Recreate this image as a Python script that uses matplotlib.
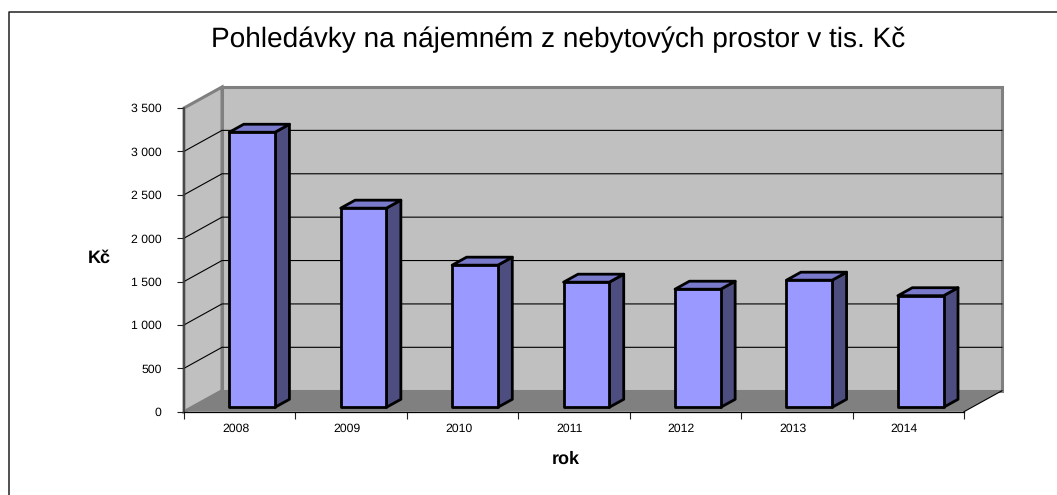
import matplotlib
matplotlib.use('Agg')
import matplotlib.pyplot as plt
from matplotlib.lines import Line2D
from matplotlib.patches import Polygon
from matplotlib.transforms import ScaledTranslation

years = ['2008', '2009', '2010', '2011', '2012', '2013', '2014']
values = [3170, 2295, 1638, 1442, 1361, 1465, 1286]
y_ticks = [0, 500, 1000, 1500, 2000, 2500, 3000, 3500]
y_tick_labels = ['0', '500', '1 000', '1 500', '2 000', '2 500', '3 000', '3 500']

W, H = 1057, 495
DEPTH_X = 38 / 111.43   # wall depth in category units
DEPTH_Y = 21 / 0.08677  # wall depth in value units
BAR_WIDTH = 0.41
BAR_D0, BAR_D1 = 0.21, 0.59


def project(x, y, d=0.0):
    return (x + d * DEPTH_X, y + d * DEPTH_Y)


def face(ax, points, color, **kwargs):
    poly = Polygon([project(*p) for p in points], closed=True, facecolor=color,
                   clip_on=False, **kwargs)
    ax.add_patch(poly)


plt.rcParams['font.family'] = ['Liberation Sans', 'DejaVu Sans']
plt.rcParams['text.hinting'] = 'no_hinting'

fig = plt.figure(figsize=(W / 100, H / 100), dpi=100)
ax = fig.add_axes([184 / W, 1 - 411.7 / H, 780 / W, 303.7 / H])
n = len(years)
top = y_ticks[-1]
ax.set_xlim(0, n)
ax.set_ylim(0, top)
ax.patch.set_visible(False)

# walls and floor
face(ax, [(0, 0, 1), (n, 0, 1), (n, top, 1), (0, top, 1)], '#C0C0C0',
     edgecolor='#808080', linewidth=2.2, zorder=1)
face(ax, [(0, 0, 0), (0, 0, 1), (0, top, 1), (0, top, 0)], '#C0C0C0',
     edgecolor='#808080', linewidth=2.2, zorder=1)
face(ax, [(0, 0, 0), (n, 0, 0), (n, 0, 1), (0, 0, 1)], '#808080',
     edgecolor='none', zorder=1.5)

for t in y_ticks[1:-1]:
    xs, ys = zip(project(0, t, 0), project(0, t, 1), project(n, t, 1))
    ax.plot(xs, ys, color='black', lw=0.8, clip_on=False, zorder=2)
xs, ys = zip(project(n, 0, 0), project(n, 0, 1))
ax.plot(xs, ys, color='black', lw=0.8, clip_on=False, zorder=2)

# bars
for i, v in enumerate(values):
    x0 = i + 0.335
    x1 = x0 + BAR_WIDTH
    style = dict(edgecolor='black', linewidth=2.0, joinstyle='round', zorder=3)
    face(ax, [(x1, 0, BAR_D0), (x1, 0, BAR_D1), (x1, v, BAR_D1), (x1, v, BAR_D0)],
         '#4D4D80', **style)
    face(ax, [(x0, v, BAR_D0), (x1, v, BAR_D0), (x1, v, BAR_D1), (x0, v, BAR_D1)],
         '#7A7ACC', **style)
    face(ax, [(x0, 0, BAR_D0), (x1, 0, BAR_D0), (x1, v, BAR_D0), (x0, v, BAR_D0)],
         '#9999FF', **style)

# axes
for side in ['top', 'right']:
    ax.spines[side].set_visible(False)
ax.spines['left'].set_color('#404040')
ax.spines['left'].set_linewidth(1.2)
ax.spines['bottom'].set_color('black')
ax.spines['bottom'].set_linewidth(0.9)
ax.spines['left'].set_zorder(4)
ax.spines['bottom'].set_zorder(4)

ax.set_yticks(y_ticks)
ax.set_yticklabels(y_tick_labels)
ax.tick_params(axis='y', length=5, width=0.8, pad=11, labelsize=8.8, color='#202020')

ax.set_xticks(range(n + 1))
ax.set_xticklabels([])
ax.set_xticks([i + 0.5 for i in range(n)], labels=years, minor=True)
ax.tick_params(axis='x', which='major', length=5, width=0.8, color='#202020')
ax.tick_params(axis='x', which='minor', length=0, pad=8.5, labelsize=8.8)
shift = ScaledTranslation(-4 / 100, 0, fig.dpi_scale_trans)
for label in ax.get_xticklabels(minor=True):
    label.set_transform(label.get_transform() + shift)

ax.set_xlabel('rok', fontsize=13, fontweight='bold')
ax.xaxis.set_label_coords(0.49, -0.156, transform=ax.transAxes)
ax.xaxis.label.set_verticalalignment('center')
ax.set_ylabel('Kč', fontsize=13, fontweight='bold', rotation=0, ha='center', va='center')
ax.yaxis.set_label_coords(-0.109, 0.506)

fig.text(558 / W, 1 - 40 / H, 'Pohledávky na nájemném z nebytových prostor v tis. Kč',
         ha='center', va='center', fontsize=20.2)

# chart border, cut by the image edge on the right and at the bottom
fig.add_artist(Line2D([8.7 / W, 8.7 / W, 1], [0, 1 - 12 / H, 1 - 12 / H],
                      color='#202020', lw=1.1))

fig.savefig('out.png', dpi=100)
